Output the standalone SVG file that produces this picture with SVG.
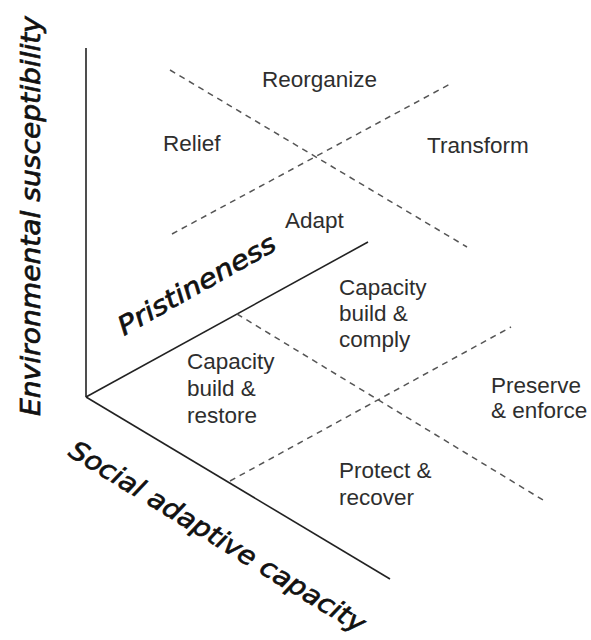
<svg xmlns="http://www.w3.org/2000/svg" width="591" height="640" viewBox="0 0 591 640">
<style>
.axis{stroke:#222;stroke-width:1.6;fill:none}
.dash{stroke:#555;stroke-width:1.5;stroke-dasharray:6 5;fill:none}
.lbl{font-family:"Liberation Sans",Arial,sans-serif;font-size:22.5px;fill:#2e2e2e}
.ax{font-family:"Comic Sans MS","DejaVu Sans",sans-serif;font-style:italic;font-size:26px;fill:#111;stroke:#111;stroke-width:0.7}
</style>
<rect width="591" height="640" fill="#fff"/>
<g id="connectors">
<line class="axis" x1="86" y1="48" x2="86" y2="397"/>
<line class="axis" x1="86" y1="397" x2="368" y2="242"/>
<line class="axis" x1="86" y1="397" x2="390" y2="579"/>
<line class="dash" x1="170" y1="70" x2="467" y2="247"/>
<line class="dash" x1="172" y1="234" x2="452" y2="83"/>
<line class="dash" x1="237" y1="314" x2="543" y2="500"/>
<line class="dash" x1="230" y1="481" x2="511" y2="327"/>
</g>
<g id="axis-env"><text class="ax" transform="translate(40,416) rotate(-90)" textLength="400" lengthAdjust="spacingAndGlyphs">Environmental susceptibility</text></g>
<g id="axis-pristineness"><text class="ax" transform="translate(124,336) rotate(-29.5)" textLength="177" lengthAdjust="spacingAndGlyphs">Pristineness</text></g>
<g id="axis-social"><text class="ax" transform="translate(67,455) rotate(31.5)" textLength="342" lengthAdjust="spacingAndGlyphs">Social adaptive capacity</text></g>
<g id="reorganize"><text class="lbl" x="262" y="87">Reorganize</text></g>
<g id="relief"><text class="lbl" x="163" y="151">Relief</text></g>
<g id="transform"><text class="lbl" x="427" y="153">Transform</text></g>
<g id="adapt"><text class="lbl" x="285" y="228">Adapt</text></g>
<g id="cb-comply"><text class="lbl" x="339" y="295">Capacity</text><text class="lbl" x="339" y="321">build &amp;</text><text class="lbl" x="339" y="347">comply</text></g>
<g id="cb-restore"><text class="lbl" x="187" y="369">Capacity</text><text class="lbl" x="187" y="396">build &amp;</text><text class="lbl" x="187" y="423">restore</text></g>
<g id="preserve"><text class="lbl" x="491" y="393">Preserve</text><text class="lbl" x="491" y="418">&amp; enforce</text></g>
<g id="protect"><text class="lbl" x="339" y="478">Protect &amp;</text><text class="lbl" x="339" y="505">recover</text></g>
</svg>
